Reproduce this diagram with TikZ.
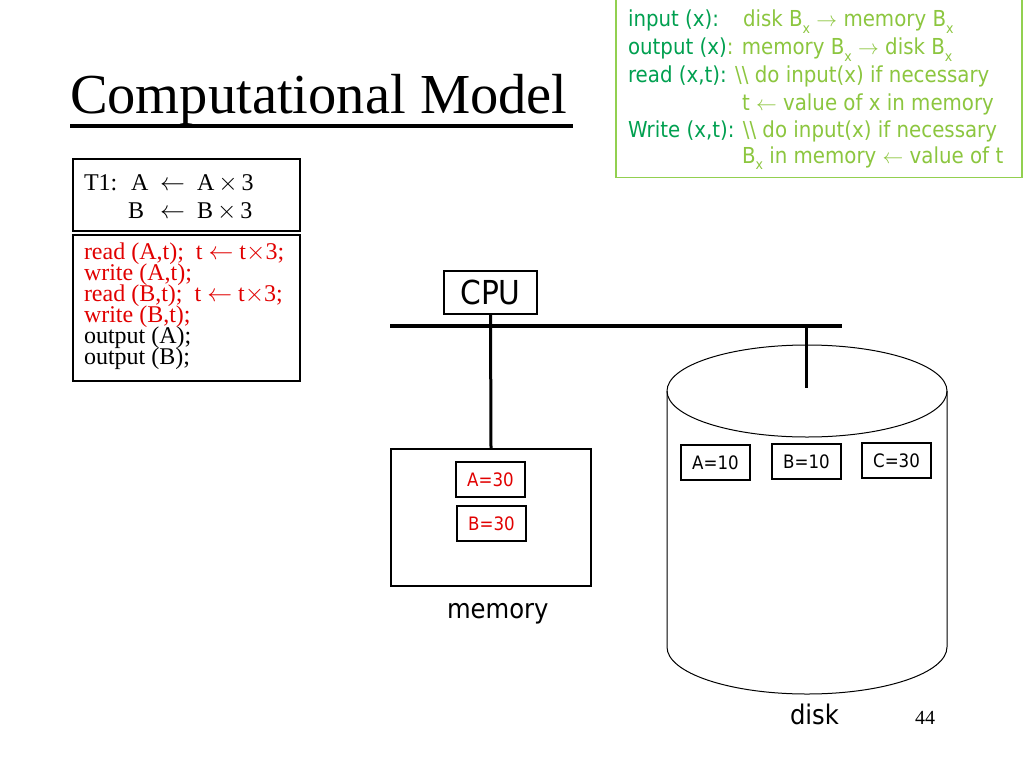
\documentclass[tikz,border=0pt]{standalone}
\usepackage{fontspec}
\setmainfont{Liberation Serif}
\newfontfamily\vf[FakeStretch=0.9]{DejaVu Sans}
\newcommand\fsz[1]{\fontsize{#1}{#1}\selectfont}
\newcommand\sbx{\raisebox{-0.28em}{\fsz{14}x}}
\definecolor{gdark}{RGB}{0,160,80}
\definecolor{glight}{RGB}{140,198,63}
\definecolor{gborder}{RGB}{146,208,80}
\definecolor{cred}{RGB}{225,0,0}
\tikzset{
  txt/.style={anchor=base west, inner sep=0pt, outer sep=0pt},
  gtxt/.style={txt, font=\vf\fsz{22}, text=glight},
  ctxt/.style={txt, font=\fsz{24}},
  valbox/.style={draw, line width=1.2pt, minimum width=69pt, minimum height=35pt, inner sep=0pt, font=\vf\fsz{18.5}},
  bigbox/.style={draw, line width=2pt, inner sep=0pt},
  bus/.style={line width=4pt},
  wire/.style={line width=3pt}
}
\begin{document}
\begin{tikzpicture}[x=1pt,y=-1pt]
\useasboundingbox[fill=white] (0,0) rectangle (1024,768);

% title
\node[txt, font=\fsz{56.5}] (title) at (70,113) {Computational Model};
\draw[line width=4pt] (70,126) coordinate (ulL) -- (573,126) coordinate (ulR);

% green legend box
\node[draw=gborder, line width=1.2pt, minimum width=406pt, minimum height=179pt, inner sep=0pt] (legend) at (819,88) {};
\node[gtxt] (g1a) at (628,27) {\color{gdark}input (x):};
\node[gtxt] (g1b) at (743,27) {disk B\sbx{} $\rightarrow$ memory B\sbx};
\node[gtxt] (g2) at (628,55) {\textcolor{gdark}{output (x)}: memory B\sbx{} $\rightarrow$ disk B\sbx};
\node[gtxt] (g3) at (628,82) {\textcolor{gdark}{read (x,t):} \textbackslash\textbackslash{} do input(x) if necessary};
\node[gtxt] (g4) at (742,110) {t $\leftarrow$ value of x in memory};
\node[gtxt] (g5) at (628,137) {\textcolor{gdark}{Write (x,t):} \textbackslash\textbackslash{} do input(x) if necessary};
\node[gtxt] (g6) at (742,163) {B\sbx{} in memory $\leftarrow$ value of t};

% T1 box
\node[bigbox, minimum width=227pt, minimum height=72pt] (t1box) at (186.5,194.5) {};
\node[ctxt] (t1a) at (84,190) {T1:};
\node[ctxt] (t1b) at (131,190) {A};
\node[ctxt] (t1c) at (160,190) {$\leftarrow$};
\node[ctxt] (t1d) at (197,190) {A\,$\times$\,3};
\node[ctxt] (t1e) at (128,218) {B};
\node[ctxt] (t1f) at (160,218) {$\leftarrow$};
\node[ctxt] (t1g) at (197,218) {B\,$\times$\,3};

% code box
\node[bigbox, minimum width=227pt, minimum height=146pt] (codebox) at (186.5,308) {};
\node[ctxt, text=cred] (c1) at (84,259) {read (A,t);\ \ t $\leftarrow$ t$\times$3;};
\node[ctxt, text=cred] (c2) at (84,280) {write (A,t);};
\node[ctxt, text=cred] (c3) at (84,301) {read (B,t);\ \ t $\leftarrow$ t$\times$3;};
\node[ctxt, text=cred] (c4) at (84,322) {write (B,t);};
\node[ctxt] (c5) at (84,343) {output (A);};
\node[ctxt] (c6) at (84,364) {output (B);};

% CPU and bus
\node[draw, line width=1.2pt, minimum width=93pt, minimum height=43pt, inner sep=0pt, font=\vf\fsz{33}] (cpu) at (490.5,292.5) {CPU};
\coordinate (busL) at (390,326);
\coordinate (busR) at (842,326);
\draw[bus] (busL) -- (busR);

% memory
\node[draw, line width=1.5pt, minimum width=200pt, minimum height=137pt, inner sep=0pt] (mem) at (491,517.5) {};
\draw[wire] (cpu.south) -- (mem.north);
\node[valbox, text=cred] (ma) at (490.5,479.5) {A=30};
\node[valbox, text=cred] (mb) at (491.5,523.5) {B=30};
\node[txt, font=\vf\fsz{27}] (memlbl) at (447,618) {memory};

% disk
\draw[line width=1pt] (807,391) ellipse [x radius=140, y radius=46];
\draw[line width=1pt] (667,391) -- (667,647) arc[start angle=180, end angle=0, x radius=140, y radius=47] -- (947,391);
\coordinate (diskTap) at (806,326);
\coordinate (diskEnd) at (806,388);
\draw[wire] (diskTap) -- (diskEnd);
\node[valbox] (da) at (715.5,462.5) {A=10};
\node[valbox, line width=1.6pt] (db) at (806.5,461.5) {B=10};
\node[valbox] (dc) at (896.5,460.5) {C=30};
\node[txt, font=\vf\fsz{27}] (disklbl) at (790,724) {disk};
\node[txt, font=\fsz{20}] (pnum) at (915,724) {44};
\end{tikzpicture}
\end{document}
